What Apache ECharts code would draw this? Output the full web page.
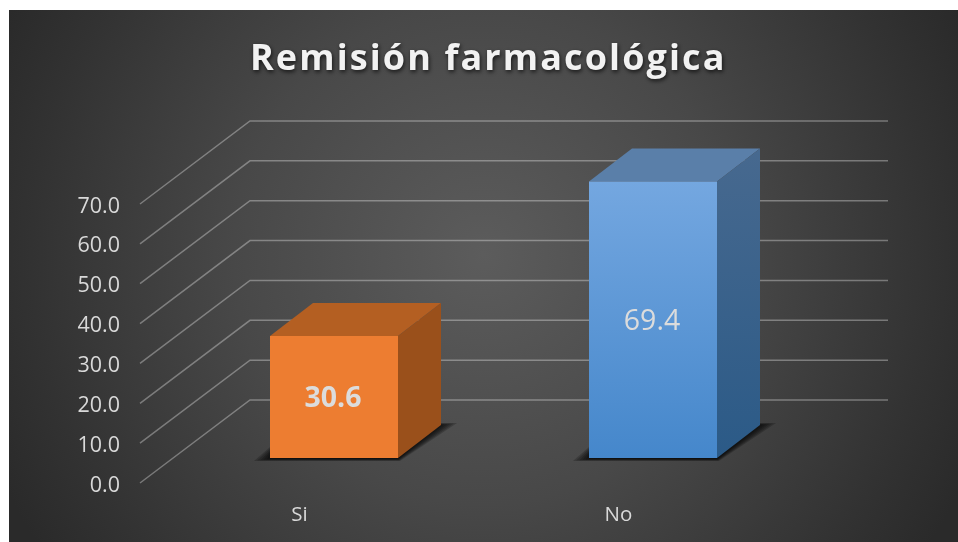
<!DOCTYPE html>
<html><head><meta charset="utf-8">
<style>html,body{margin:0;padding:0;background:#fff}#c{width:958px;height:542px}</style>
<script src="https://cdn.jsdelivr.net/npm/echarts@6/dist/echarts.min.js"></script>
</head><body><div id="c"></div>
<script>
const titleText = 'Remisión farmacológica';
const categories = ['Si', 'No'];
const values = [30.6, 69.4];
const yTicks = [0, 10, 20, 30, 40, 50, 60, 70];

const FONT = '"Open Sans", sans-serif';
// The title in the reference is letter-spaced; ECharts has no option for that.
const proto = CanvasRenderingContext2D.prototype, baseFill = proto.fillText;
proto.fillText = function (t, x, y, m) {
  if (t !== titleText) return m === undefined ? baseFill.call(this, t, x, y) : baseFill.call(this, t, x, y, m);
  this.letterSpacing = '2.1px';
  baseFill.call(this, t, x, y);
  this.letterSpacing = '0px';
};
const lin = (a, b) => new echarts.graphic.LinearGradient(0, 0, 0, 1, [{offset: 0, color: a}, {offset: 1, color: b}]);
const faces = [
  {front: '#ED7D31', top: '#B45F22', side: '#9A501B', bold: true},
  {front: lin('#74A7E0', '#4587CB'), top: '#5A7FA9', side: lin('#47698F', '#2B5A87'), bold: false}
];
const shadowSteps = [1, 0.8, 0.6, 0.4, 0.2, 0];
const chart = echarts.init(document.getElementById('c'), null, {renderer: 'canvas'});
chart.setOption({
  animation: false,
  graphic: [{type: 'rect', z: -10, silent: true,
    shape: {x: 9, y: 10, width: 949, height: 532},
    style: {fill: new echarts.graphic.RadialGradient(0.5, 0.46, 1.0, [
      {offset: 0, color: '#5C5C5C'}, {offset: 0.47, color: '#484848'}, {offset: 0.85, color: '#323232'}, {offset: 1, color: '#2A2A2A'}])}}],
  title: {text: titleText, left: 245, top: 37,
    textStyle: {fontFamily: FONT, fontSize: 36, fontWeight: 'bold', color: '#F2F2F2',
      textShadowColor: 'rgba(0,0,0,0.7)', textShadowBlur: 4, textShadowOffsetX: 1, textShadowOffsetY: 2}},
  grid: {left: 140, top: 204, width: 638, height: 279},
  xAxis: {type: 'category', data: categories, axisLine: {show: false}, axisTick: {show: false},
    axisLabel: {color: '#D9D9D9', fontFamily: FONT, fontSize: 20.5, margin: 22}},
  yAxis: {type: 'value', min: 0, max: 70, interval: 10, splitLine: {show: false},
    axisLine: {show: false}, axisTick: {show: false},
    axisLabel: {color: '#D9D9D9', fontFamily: FONT, fontSize: 21.5, margin: 20, verticalAlign: 'top', lineHeight: 5, formatter: v => v.toFixed(1)}},
  series: [
    {type: 'custom', z: 1, silent: true, data: yTicks.map(v => [0, v]),
      renderItem(p, api) {
        const y = api.coord([0, api.value(1)])[1], x = p.coordSys.x, w = p.coordSys.width;
        return {type: 'polyline', shape: {points: [[x, y], [x + 110, y - 83], [x + 110 + w, y - 83]]},
          style: {fill: null, stroke: 'rgba(255,255,255,0.33)', lineWidth: 1.5}};
      }},
    {type: 'custom', z: 2, silent: true, data: values.map((v, i) => [i, v]),
      renderItem(p, api) {
        const i = api.value(0), v = api.value(1), f = faces[i];
        const b = api.coord([i, 0]), t = api.coord([i, v]);
        const ox = 34.5, oy = -25, hw = 64, dx = 43, dy = -33;
        const L = b[0] + ox - hw, R = b[0] + ox + hw, B = b[1] + oy, T = t[1] + oy;
        const shadow = shadowSteps.map(s => ({type: 'polygon',
          shape: {points: [[L - 16 * s, B + 1 + 2 * s], [L, B - 3 - 8 * s], [R + dx, B + dy - 2 * s], [R + dx + 16 * s, B + dy - 2 * s], [R + 2 * s, B + 1 + 2 * s]]},
          style: {fill: 'rgba(0,0,0,0.2)'}}));
        return {type: 'group', children: shadow.concat([
          {type: 'polygon', shape: {points: [[L, T], [L + dx, T + dy], [R + dx, T + dy], [R, T]]}, style: {fill: f.top}},
          {type: 'polygon', shape: {points: [[R, T], [R + dx, T + dy], [R + dx, B + dy], [R, B]]}, style: {fill: f.side}},
          {type: 'rect', shape: {x: L, y: T, width: 2 * hw, height: B - T}, style: {fill: f.front}},
          {type: 'text', style: {x: (L + R) / 2 - 1, y: (T + B) / 2 + 2, text: v.toFixed(1), align: 'center', verticalAlign: 'middle',
            fill: '#DCDCDC', fontFamily: FONT, fontSize: 28.5, fontWeight: f.bold ? 'bold' : 'normal'}}
        ])};
      }}
  ]
});
</script></body></html>
